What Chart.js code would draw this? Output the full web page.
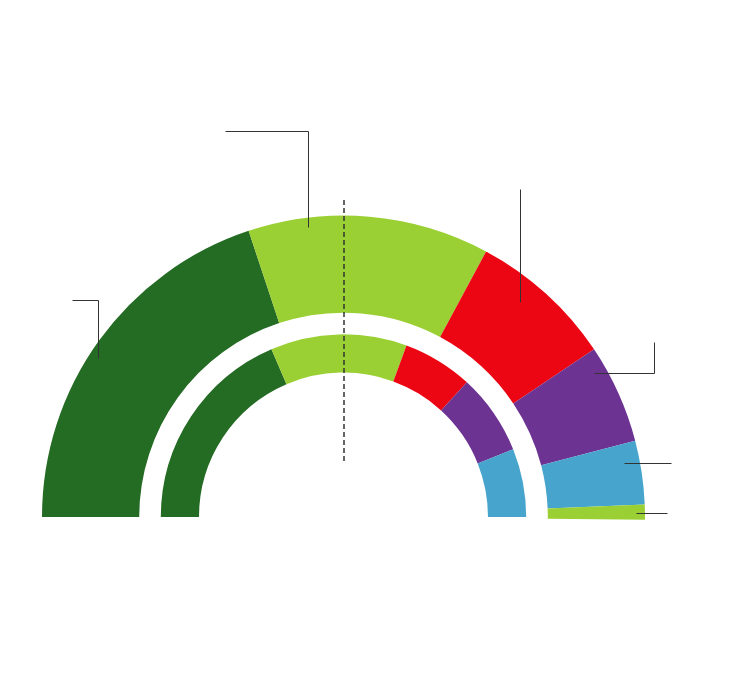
<!DOCTYPE html>
<html>
<head>
<meta charset="utf-8">
<style>
  html, body { margin: 0; padding: 0; background: #fff; }
  #wrap { width: 750px; height: 684px; }
</style>
<script src="https://cdn.jsdelivr.net/npm/chart.js@4"></script>
</head>
<body>
<div id="wrap"><canvas id="chart"></canvas></div>
<script>
// parties, outer ring (current result) and inner ring (previous result), in %
const outerParties = ['A', 'B', 'C', 'D', 'E', 'F'];
const outerValues = [39.7, 25.8, 15.5, 10.6, 6.8, 1.6];
const outerColors = ['#246b23', '#9bd035', '#ec0512', '#6c3393', '#47a4cc', '#9bd035'];

const innerParties = ['A', 'B', 'C', 'D', 'E'];
const innerValues = [37.1, 24.1, 12.4, 14.3, 12.1];
const innerColors = ['#246b23', '#9bd035', '#ec0512', '#6c3393', '#47a4cc'];

// leader lines, offsets in px from the centre of the half circle
const leaders = [
  [[-118.5, -386], [-35.5, -386], [-35.5, -290]],
  [[176.5, -328], [176.5, -215]],
  [[-271.5, -217], [-245.5, -217], [-245.5, -159]],
  [[310.5, -175], [310.5, -144], [250.5, -144]],
  [[280.5, -54], [327.5, -54]],
  [[292.5, -4], [323.5, -4]]
];
const majorityLine = [-317, -54];

const overlay = {
  id: 'overlay',
  afterDatasetsDraw(chart) {
    const arc = chart.getDatasetMeta(2).data[0];
    if (!arc) return;
    const cx = arc.x, cy = arc.y;
    const ctx = chart.ctx;
    ctx.save();
    ctx.strokeStyle = '#333';
    ctx.lineWidth = 1;
    leaders.forEach(pts => {
      ctx.beginPath();
      pts.forEach((p, i) => {
        const x = Math.round(cx + p[0]) + 0.5, y = Math.round(cy + p[1]) + 0.5;
        if (i === 0) ctx.moveTo(x, y);
        else ctx.lineTo(x, y);
      });
      ctx.stroke();
    });
    // dashed majority line
    ctx.lineWidth = 1.5;
    ctx.setLineDash([5, 3]);
    ctx.beginPath();
    ctx.moveTo(cx + 0.5, cy + majorityLine[0]);
    ctx.lineTo(cx + 0.5, cy + majorityLine[1]);
    ctx.stroke();
    ctx.restore();
  }
};

new Chart(document.getElementById('chart'), {
  type: 'doughnut',
  data: {
    labels: outerParties,
    datasets: [
      { data: outerValues, backgroundColor: outerColors, borderWidth: 0, weight: 97.2, circumference: 180.5 },
      { data: [1], backgroundColor: 'rgba(0,0,0,0)', borderWidth: 0, weight: 21.6 },
      { data: innerValues, backgroundColor: innerColors, borderWidth: 0, weight: 38.2 }
    ]
  },
  options: {
    responsive: true,
    maintainAspectRatio: false,
    animation: false,
    rotation: -90,
    circumference: 180,
    cutout: '47.93%',
    layout: { padding: { left: 42, right: 105, top: 215.5, bottom: 164.3 } },
    plugins: {
      legend: { display: false },
      tooltip: { enabled: false }
    },
    events: []
  },
  plugins: [overlay]
});
</script>
</body>
</html>
